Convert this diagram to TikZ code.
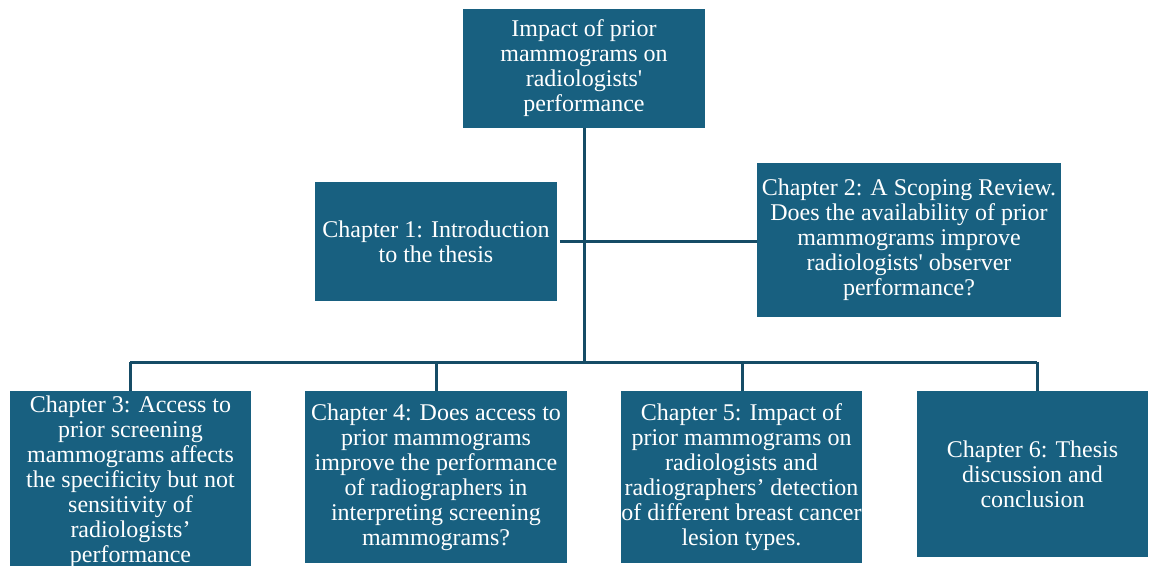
\documentclass[tikz,border=0pt]{standalone}
\usepackage{fontspec}
\setmainfont{Liberation Serif}[Ligatures=TeXOff]
\usetikzlibrary{calc}
\definecolor{boxblue}{RGB}{24,96,128}
\definecolor{lineblue}{RGB}{22,76,102}
\tikzset{
	chapbox/.style={fill=boxblue, text=white, align=center, inner sep=0pt, font=\fontsize{18}{18.75}\selectfont},
	link/.style={draw=lineblue, line width=2.25pt}
}

\begin{document}
\begin{tikzpicture}[x=0.75pt, y=-0.75pt]
		%%%%% START %%%%%
		\clip (0, 0) rectangle (1149, 565);
		\fill[white] (0, 0) rectangle (1149, 565);
		
		\node[chapbox, minimum width=181.5pt, minimum height=89.25pt] (top) at (584, 68.5) {Impact of prior\\mammograms on\\radiologists'\\performance};
		
		\node[chapbox, minimum width=181.5pt, minimum height=89.25pt] (ch1) at (436, 241.5) {Chapter 1: Introduction\\to the thesis};
		\node[chapbox, minimum width=228pt, minimum height=115.5pt] (ch2) at (909, 240) {Chapter 2: A Scoping Review.\\Does the availability of prior\\mammograms improve\\radiologists' observer\\performance?};
		
		\node[chapbox, minimum width=180.75pt, minimum height=136.5pt] (ch3) at (130.5, 482) {Chapter 3: Access to\\prior screening\\mammograms affects\\the specificity but not\\sensitivity of\\radiologists’\\performance};
		\node[chapbox, minimum width=196.5pt, minimum height=129pt] (ch4) at (436, 477) {Chapter 4: Does access to\\prior mammograms\\improve the performance\\of radiographers in\\interpreting screening\\mammograms?};
		\node[chapbox, minimum width=180.75pt, minimum height=129pt] (ch5) at (741.5, 477) {Chapter 5: Impact of\\prior mammograms on\\radiologists and\\radiographers’ detection\\of different breast cancer\\lesion types.};
		\node[chapbox, minimum width=173.25pt, minimum height=124.5pt] (ch6) at (1032.5, 474) {Chapter 6: Thesis\\discussion and\\conclusion};
		
		% trunk and bus
		\coordinate (trunk) at (584, 362);
		\coordinate (b3) at (130, 362);
		\coordinate (b4) at (436, 362);
		\coordinate (b5) at (742, 362);
		\coordinate (b6) at (1037, 362);
		
		\draw[link] (top.south) -- (trunk);
		\draw[link] ([xshift=2pt]ch1.east) -- (ch1.east -| ch2.west);
		\draw[link] (b3) -- (b6);
		\draw[link] (b3) -- (b3 |- ch3.north);
		\draw[link] (b4) -- (b4 |- ch4.north);
		\draw[link] (b5) -- (b5 |- ch5.north);
		\draw[link] (b6) -- (b6 |- ch6.north);
		%%%%% END %%%%%
\end{tikzpicture}
\end{document}
